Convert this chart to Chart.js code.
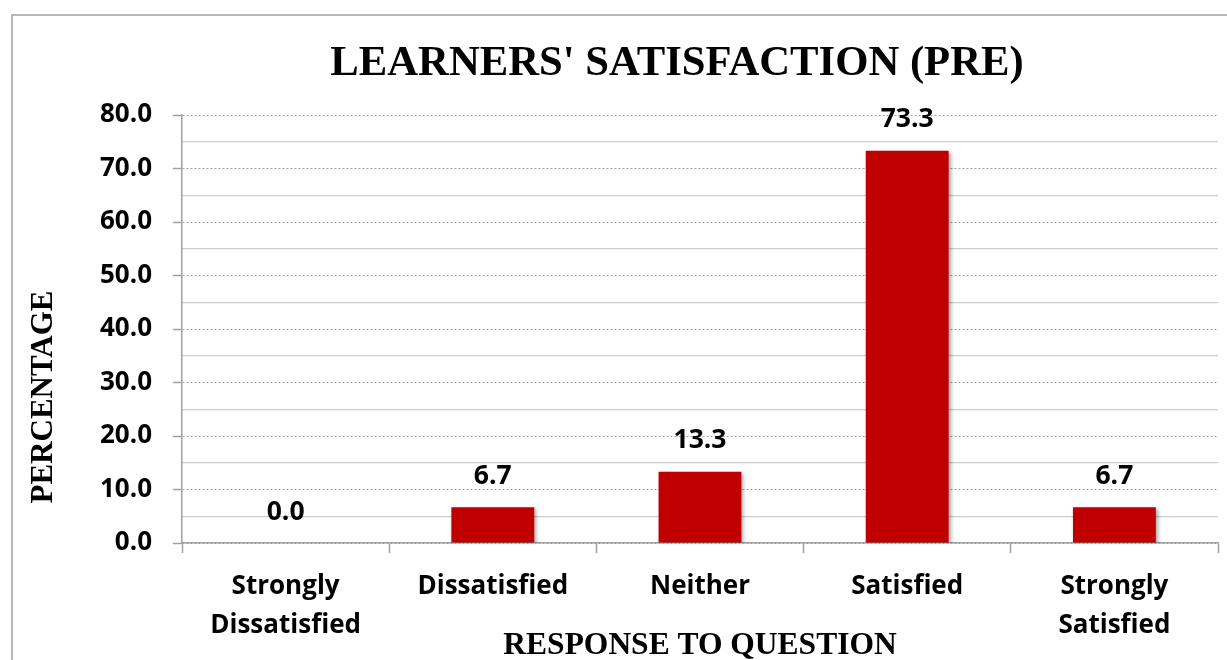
<!DOCTYPE html>
<html><head><meta charset="utf-8">
<script src="https://cdn.jsdelivr.net/npm/chart.js@4.4.1/dist/chart.umd.min.js"></script>
<style>
html,body{margin:0;padding:0;background:#fff;width:1227px;height:660px;overflow:hidden;}
#frame{position:absolute;left:11px;top:14px;width:2000px;height:2000px;border-left:2px solid #b8b8b8;border-top:2px solid #b8b8b8;}
#wrap{position:absolute;left:0;top:0;width:1227px;height:660px;}
</style></head><body>
<div id="frame"></div>
<div id="wrap"><canvas id="c"></canvas></div>
<script>
const categories = [['Strongly','Dissatisfied'], 'Dissatisfied', 'Neither', 'Satisfied', ['Strongly','Satisfied']];
const percentages = [0.0, 6.7, 13.3, 73.3, 6.7];
const yTicks = [0, 10, 20, 30, 40, 50, 60, 70, 80];
const chartTitle = "LEARNERS' SATISFACTION (PRE)";
const xTitle = 'RESPONSE TO QUESTION';
const yTitle = 'PERCENTAGE';

const SANS = '"Open Sans", "Noto Sans", sans-serif';
const SERIF = '"Liberation Serif", "Times New Roman", serif';

const decor = {
  id: 'decor',
  beforeDatasetsDraw(chart) {
    const ctx = chart.ctx;
    ctx.save();
    ctx.shadowColor = 'rgba(0,0,0,0.35)';
    ctx.shadowBlur = 4;
    ctx.shadowOffsetX = 2;
    ctx.shadowOffsetY = 2;
  },
  afterDatasetsDraw(chart) {
    const ctx = chart.ctx;
    ctx.restore();
    ctx.save();
    ctx.fillStyle = '#000';
    ctx.font = 'bold 26.5px ' + SANS;
    ctx.textAlign = 'center';
    ctx.textBaseline = 'middle';
    const meta = chart.getDatasetMeta(0);
    meta.data.forEach((el, i) => {
      ctx.fillText(percentages[i].toFixed(1), el.x, el.y - 31);
    });
    ctx.restore();
  },
  afterDraw(chart) {
    const ctx = chart.ctx;
    ctx.save();
    ctx.fillStyle = '#000';
    ctx.textAlign = 'center';
    ctx.textBaseline = 'middle';
    ctx.font = 'bold 42.7px ' + SERIF;
    ctx.fillText(chartTitle, 677, 64);
    ctx.translate(44, 397);
    ctx.rotate(-Math.PI / 2);
    ctx.font = 'bold 31px ' + SERIF;
    ctx.fillText(yTitle, 0, 0);
    ctx.restore();
  }
};

new Chart(document.getElementById('c'), {
  type: 'bar',
  data: {
    labels: categories,
    datasets: [{
      data: percentages,
      backgroundColor: '#C00000',
      borderWidth: 0,
      barPercentage: 0.4,
      categoryPercentage: 1.0
    }]
  },
  plugins: [decor],
  options: {
    responsive: true,
    maintainAspectRatio: false,
    animation: false,
    layout: { padding: { top: 115, right: 9, left: 0, bottom: 0 } },
    plugins: { legend: { display: false }, title: { display: false }, tooltip: { enabled: false } },
    scales: {
      x: {
        type: 'category',
        offset: true,
        grid: { drawOnChartArea: false, drawTicks: true, tickLength: 10, color: '#a0a0a0', offset: true, tickWidth: 1.5 },
        border: { display: true, color: '#a0a0a0', width: 1.5 },
        ticks: { color: '#000', font: { family: SANS, size: 26, weight: 'bold', lineHeight: 1.5 }, padding: 14, maxRotation: 0, autoSkip: false },
        title: { display: true, text: xTitle, color: '#000', font: { family: SERIF, size: 31.5, weight: 'bold', lineHeight: 0.8 }, padding: { top: 0, bottom: 1.5 } },
        afterFit(s) { s.height = 117; }
      },
      y: {
        position: 'left',
        min: 0, max: 80,
        afterBuildTicks(s) { s.ticks = yTicks.map(v => ({ value: v })); },
        ticks: { color: '#000', font: { family: SANS, size: 26, weight: 'bold' }, padding: 21, callback: v => Number(v).toFixed(1) },
        grid: { color: '#a0a0a0', lineWidth: 1, tickLength: 9, tickColor: '#a0a0a0', tickWidth: 1.5, tickBorderDash: [] },
        border: { display: true, color: '#a0a0a0', width: 1.5, dash: [2, 2] },
        afterFit(s) { s.width = 182; }
      },
      y2: {
        position: 'right',
        min: 0, max: 80,
        ticks: { display: false, stepSize: 5 },
        grid: { drawTicks: false, lineWidth: 1.2, color: c => (c.tick && c.tick.value % 10 !== 0) ? '#cccccc' : 'rgba(0,0,0,0)' },
        border: { display: false },
        afterFit(s) { s.width = 0; }
      }
    }
  }
});
</script>
</body></html>
